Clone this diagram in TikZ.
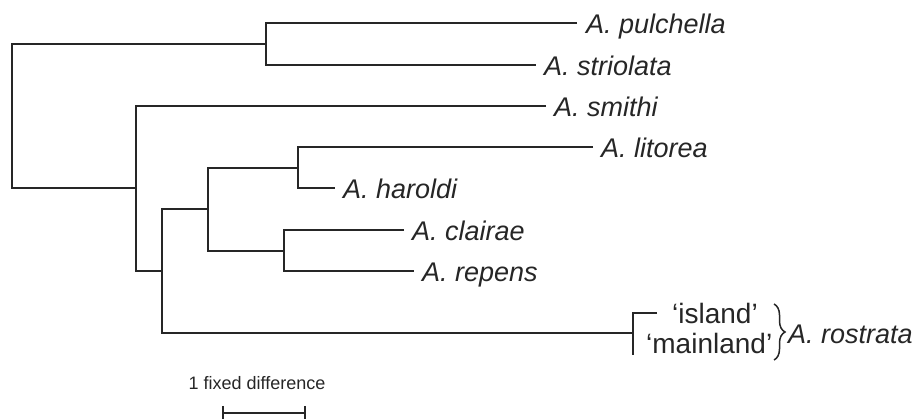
\documentclass[tikz,border=0pt]{standalone}
\usepackage{fontspec}
\setmainfont{Liberation Sans}
\usepackage{tikz}
\tikzset{
    branch/.style={line width=1.9pt, draw=black!85},
    taxon/.style={font=\fontsize{27}{30}\selectfont\itshape, inner sep=0pt,
      text height=21pt, text depth=0pt, text=black!85},
    form/.style={font=\fontsize{28}{31}\selectfont, inner sep=0pt,
      text height=21pt, text depth=0pt, text=black!85}}
\usetikzlibrary{positioning,decorations.pathreplacing}

\begin{document}
\begin{tikzpicture}[x=1pt, y=-1pt,
      bracket/.style={draw=black!85, line width=1.5pt,
        decorate, decoration={brace, amplitude=11pt}}]
  \useasboundingbox (0,0) rectangle (916,419);
  % Internal nodes
  \coordinate (root) at (12,115);
  \coordinate (nPS) at (266,44);
  \coordinate (nB) at (136,188);
  \coordinate (nC) at (162,271);
  \coordinate (nD) at (208,209);
  \coordinate (nLH) at (298,168);
  \coordinate (nCR) at (284,251);
  \coordinate (nRo) at (633,333);
  % Tips
  \coordinate (pul) at (577,23);
  \coordinate (str) at (536,65);
  \coordinate (smi) at (546,106);
  \coordinate (lit) at (593,147);
  \coordinate (har) at (335,188);
  \coordinate (cla) at (404,230);
  \coordinate (rep) at (414,271);
  \coordinate (isl) at (657,313);
  \coordinate (mai) at (633,355);
  % Branches
  \draw[branch] (nPS) -| (root) |- (nB);
  \draw[branch] (pul) -| (nPS) |- (str);
  \draw[branch] (smi) -| (nB) |- (nC);
  \draw[branch] (nD) -| (nC) |- (nRo);
  \draw[branch] (nLH) -| (nD) |- (nCR);
  \draw[branch] (lit) -| (nLH) |- (har);
  \draw[branch] (cla) -| (nCR) |- (rep);
  \draw[branch] (isl) -| (nRo) |- (mai);
  % Labels
  \node[taxon, right=9pt of pul] (pulL) {A. pulchella};
  \node[taxon, right=8pt of str] (strL) {A. striolata};
  \node[taxon, right=8pt of smi] (smiL) {A. smithi};
  \node[taxon, right=8pt of lit] (litL) {A. litorea};
  \node[taxon, right=8pt of har] (harL) {A. haroldi};
  \node[taxon, right=8pt of cla] (claL) {A. clairae};
  \node[taxon, right=8pt of rep] (repL) {A. repens};
  \node[form, right=15pt of isl] (islL) {`island'};
  \node[form, anchor=west] (maiL) at (646,343) {`mainland'};
  \coordinate (brT) at (774,304);
  \coordinate (brB) at (774,360);
  \draw[bracket] (brT) -- (brB);
  \node[taxon, anchor=west] (rosL) at (788,333) {A. rostrata};
  % Scale bar
  \coordinate (sbL) at (223,413);
  \coordinate (sbR) at (305,413);
  \draw[branch] (sbL) -- (sbR);
  \draw[branch] ([yshift=7pt]sbL) -- ([yshift=-7pt]sbL);
  \draw[branch] ([yshift=7pt]sbR) -- ([yshift=-7pt]sbR);
  \node[font=\fontsize{18}{20}\selectfont, text=black!85, anchor=base] (sbT)
    at (257,390) {1 fixed difference};
\end{tikzpicture}
\end{document}
